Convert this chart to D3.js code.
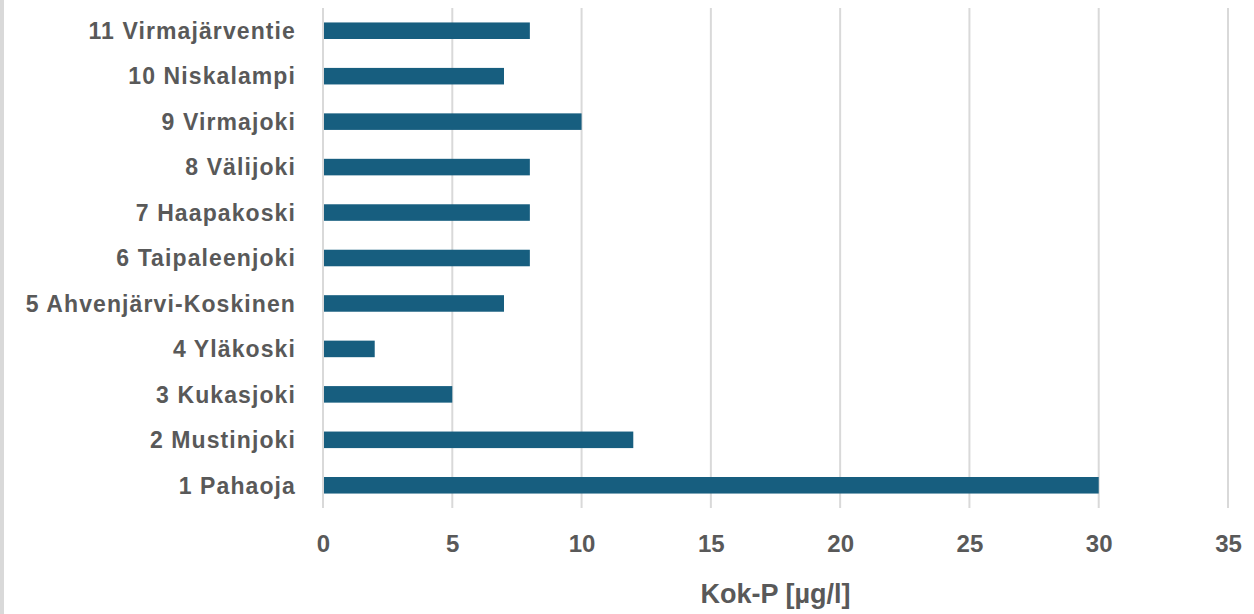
<!DOCTYPE html>
<html>
<head>
<meta charset="utf-8">
<script src="https://cdn.jsdelivr.net/npm/d3@7"></script>
<style>
html,body{margin:0;padding:0;background:#fff;}
svg{display:block;}
</style>
</head>
<body>
<svg id="chart" width="1254" height="614"></svg>
<script>
const categories = ["1 Pahaoja","2 Mustinjoki","3 Kukasjoki","4 Yläkoski","5 Ahvenjärvi-Koskinen","6 Taipaleenjoki","7 Haapakoski","8 Välijoki","9 Virmajoki","10 Niskalampi","11 Virmajärventie"];
const values = [30,12,5,2,7,8,8,8,10,7,8];
const xTicks = [0,5,10,15,20,25,30,35];
const xTitle = "Kok-P [µg/l]";

const svg = d3.select("#chart");
const W = 1254, H = 614;
const m = {left:323, right:W-1228, top:8, bottom:H-508};

svg.append("rect").attr("x",0).attr("y",0).attr("width",4).attr("height",H).attr("fill","#d9d9d9");

const x = d3.scaleLinear().domain([0,35]).range([m.left, 1228]);
const y = d3.scaleBand().domain(categories.slice().reverse()).range([m.top, 508]).paddingInner(0.636).paddingOuter(0.318);

const font = "'Liberation Sans', Arial, sans-serif";
const grey = "#595959";

// gridlines
svg.append("g").selectAll("line").data(xTicks).join("line")
  .attr("x1",d=>x(d)).attr("x2",d=>x(d))
  .attr("y1",m.top).attr("y2",508)
  .attr("stroke","#d9d9d9").attr("stroke-width",2);

// bars
svg.append("g").selectAll("rect").data(categories).join("rect")
  .attr("x",x(0)+1)
  .attr("y",d=>y(d))
  .attr("width",(d,i)=>x(values[i])-x(0)-1)
  .attr("height",y.bandwidth())
  .attr("fill","#175e7f");

// x axis
const xAxis = svg.append("g").attr("transform","translate(0,508)")
  .call(d3.axisBottom(x).tickValues(xTicks).tickSize(0).tickPadding(0));
xAxis.select(".domain").remove();
xAxis.selectAll("text").attr("y",44).attr("dy",0)
  .attr("font-family",font).attr("font-weight","bold").attr("font-size","24px").attr("fill",grey);

// y axis
const yAxis = svg.append("g").attr("transform",`translate(${m.left},0)`)
  .call(d3.axisLeft(y).tickSize(0).tickPadding(27));
yAxis.select(".domain").remove();
yAxis.selectAll("text").attr("dy","0.36em")
  .attr("font-family",font).attr("font-weight","bold").attr("font-size","23px").attr("fill",grey)
  .attr("letter-spacing","1.1px");

svg.append("text").attr("x",(x(0)+x(35))/2).attr("y",603)
  .attr("text-anchor","middle").attr("font-family",font).attr("font-weight","bold")
  .attr("font-size","27px").attr("fill",grey).text(xTitle);
</script>
</body>
</html>
